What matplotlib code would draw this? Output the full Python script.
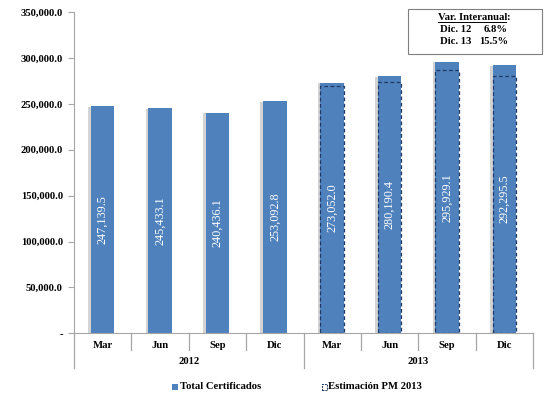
import matplotlib
matplotlib.use("Agg")
import matplotlib.pyplot as plt
import matplotlib.transforms as mtransforms
from matplotlib.patches import Rectangle

quarters = ["Mar", "Jun", "Sep", "Dic", "Mar", "Jun", "Sep", "Dic"]
years = ["2012", "2013"]
total = [247139.5, 245433.1, 240436.1, 253092.8, 273052.0, 280190.4, 295929.1, 292295.5]
labels = ["247,139.5", "245,433.1", "240,436.1", "253,092.8", "273,052.0", "280,190.4", "295,929.1", "292,295.5"]
estim_idx = [4, 5, 6, 7]
estim = [269800, 273500, 286300, 280000]
yticks = [0, 50000, 100000, 150000, 200000, 250000, 300000, 350000]
ytick_labels = ["-", "50,000.0", "100,000.0", "150,000.0", "200,000.0", "250,000.0", "300,000.0", "350,000.0"]

serif = "Liberation Serif"
blue = "#4F81BD"
navy = "#1F3864"
gray = "#A6A6A6"
W, H = 548.0, 393.0

fig = plt.figure(figsize=(5.48, 3.93), dpi=100)
ax_h = (333.3 - 12) / H
ax = fig.add_axes([74 / W, 1 - 333.3 / H, 459 / W, ax_h])

x = list(range(len(total)))
bw = 0.41
# subtle shadow on the left
ax.bar([i - 0.045 for i in x], [t * 0.997 for t in total], width=bw, color="#D3D3D3", zorder=1)
ax.bar(x, total, width=bw, color=blue, zorder=2)
ax.bar(estim_idx, estim, width=bw, facecolor="none", edgecolor=navy,
       linestyle=(0, (3, 2)), linewidth=0.9, zorder=3)

for i, lab in enumerate(labels):
    ax.text(i, total[i] / 2, lab, rotation=90, ha="center", va="center", color="white",
            fontsize=8.8, family=serif, zorder=4)

ax.set_xlim(-0.5, len(total) - 0.5)
ax.set_ylim(0, 350000)
ax.set_yticks(yticks)
ax.set_yticklabels(ytick_labels, fontsize=7.7, fontweight="bold", family=serif)
ax.set_xticks([])
for s in ["top", "right"]:
    ax.spines[s].set_visible(False)
ax.spines["left"].set_color(gray)
ax.spines["bottom"].set_color(gray)
ax.tick_params(axis="y", length=4, color=gray, pad=4)

trans = mtransforms.blended_transform_factory(ax.transData, ax.transAxes)
px = 1.0 / (ax_h * H)
for i in range(len(total) + 1):
    xx = i - 0.5
    long = (i % 4 == 0)
    y1 = -35 * px if long else -17 * px
    ax.plot([xx, xx], [0, y1], transform=trans, color=gray, lw=0.9, clip_on=False)
for i, q in enumerate(quarters):
    ax.text(i, -11.7 * px, q, transform=trans, ha="center", va="center",
            fontsize=7.7, fontweight="bold", family=serif)
for j, yr in enumerate(years):
    ax.text(1.5 + 4 * j, -28.4 * px, yr, transform=trans, ha="center", va="center",
            fontsize=7.7, fontweight="bold", family=serif)

# annotation box
fig.patches.append(Rectangle((408 / W, 1 - 54 / H), 133.5 / W, 45 / H,
                             transform=fig.transFigure, facecolor="white",
                             edgecolor="#7F7F7F", lw=0.8))
ttl = fig.text(438 / W, 1 - 17.7 / H, "Var. Interanual", ha="left", va="center",
               fontsize=7.7, fontweight="bold", family=serif)
fig.canvas.draw()
bb = ttl.get_window_extent(renderer=fig.canvas.get_renderer())
x_end = bb.x1 / fig.bbox.width
fig.text(x_end - 1.2 / W, 1 - 17.7 / H, ":", ha="left", va="center",
         fontsize=7.7, fontweight="bold", family=serif)
fig.add_artist(plt.Line2D([438 / W, x_end - 1.2 / W], [1 - 22 / H, 1 - 22 / H],
                          color="black", lw=0.7, transform=fig.transFigure))
fig.text(440 / W, 1 - 29.7 / H, "Dic. 12", ha="left", va="center",
         fontsize=7.7, fontweight="bold", family=serif)
fig.text(508 / W, 1 - 29.7 / H, "6.8%", ha="right", va="center",
         fontsize=7.7, fontweight="bold", family=serif)
fig.text(440 / W, 1 - 41.7 / H, "Dic. 13", ha="left", va="center",
         fontsize=7.7, fontweight="bold", family=serif)
fig.text(508 / W, 1 - 41.7 / H, "15.5%", ha="right", va="center",
         fontsize=7.7, fontweight="bold", family=serif)

# legend (manual)
ly = 386.5
fig.patches.append(Rectangle((172 / W, 1 - (ly + 3) / H), 6 / W, 6 / H,
                             transform=fig.transFigure, facecolor=blue, edgecolor="none"))
fig.text(180 / W, 1 - ly / H, "Total Certificados", ha="left", va="center",
         fontsize=7.7, fontweight="bold", family=serif)
fig.patches.append(Rectangle((321.5 / W, 1 - (ly + 3) / H), 5.5 / W, 6 / H,
                             transform=fig.transFigure, facecolor="white", edgecolor=navy,
                             lw=0.7, linestyle=(0, (2, 1))))
fig.text(328.5 / W, 1 - ly / H, "Estimación PM 2013", ha="left", va="center",
         fontsize=7.7, fontweight="bold", family=serif)

fig.savefig("out.png", dpi=100)
